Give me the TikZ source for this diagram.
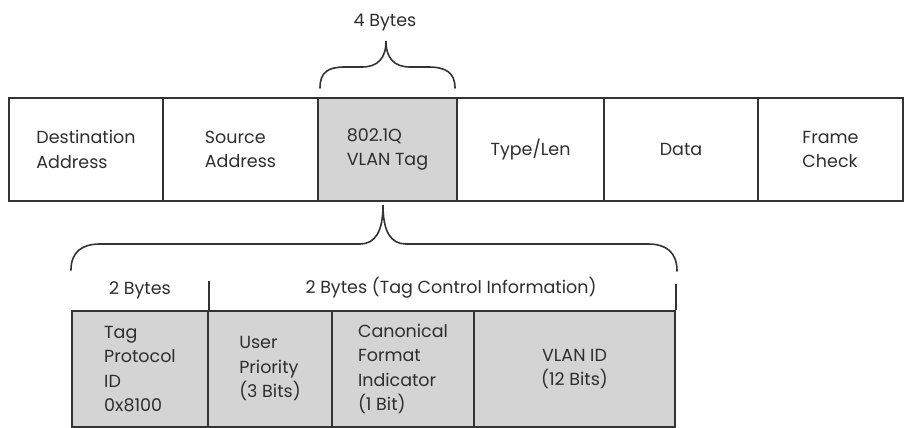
\documentclass[tikz,border=0pt]{standalone}
\usepackage{fontspec}
\setmainfont{Poppins}
\usetikzlibrary{calc}
\definecolor{edge}{HTML}{333333}
\definecolor{ink}{HTML}{2E2E2E}
\definecolor{shade}{HTML}{D4D4D4}
\begin{document}
\begin{tikzpicture}[x=1pt,y=-1pt,
  cell/.style={draw=edge,line width=1.6pt,inner sep=0pt,text=ink,
    font=\fontsize{17.5}{24.5}\selectfont},
  lbl/.style={inner sep=0pt,text=ink,font=\fontsize{17.5}{24.5}\selectfont},
  brace/.style={draw=edge,line width=1.6pt,line cap=round}]
\useasboundingbox (0,0) rectangle (905,428);
% top frame
\node[cell,minimum width=154pt,minimum height=103pt,align=left] (dst) at (86,149.5) {Destination\\Address};
\node[cell,minimum width=155pt,minimum height=103pt,align=left] (src) at (240.5,149.5) {Source\\Address};
\node[cell,fill=shade,minimum width=139pt,minimum height=103pt,align=left] (tag) at (387.5,149.5) {802.1Q\\VLAN Tag};
\node[cell,minimum width=147pt,minimum height=103pt,align=center] (typ) at (530.5,149.5) {Type/Len};
\node[cell,minimum width=154pt,minimum height=103pt,align=center] (dat) at (681,149.5) {Data};
\node[cell,minimum width=145pt,minimum height=103pt,align=left] (fcs) at (830.5,149.5) {Frame\\Check};
% bottom frame
\node[cell,fill=shade,minimum width=136pt,minimum height=116pt,align=left] (tpid) at (140,369) {Tag\\Protocol\\ID\\0x8100};
\node[cell,fill=shade,minimum width=124pt,minimum height=116pt,align=left] (pri) at (270,369) {User\\Priority\\(3 Bits)};
\node[cell,fill=shade,minimum width=142pt,minimum height=116pt,align=left] (cfi) at (403,369) {Canonical\\Format\\Indicator\\(1 Bit)};
\node[cell,fill=shade,minimum width=201pt,minimum height=116pt,align=center] (vid) at (574.5,369) {VLAN ID\\(12 Bits)};
% labels
\node[lbl] (four) at (385,22) {4 Bytes};
\node[lbl] (two) at (140,290) {2 Bytes};
\node[lbl] (tci) at (451,288) {2 Bytes (Tag Control Information)};
% upper brace
\coordinate (ua) at (320,88);
\coordinate (ut) at (386,41);
\coordinate (ub) at (455,88);
\draw[brace] (ua) .. controls (320,72) and (328,67) .. (345,67) -- (362,67)
  .. controls (378,67) and (386,58) .. (ut)
  .. controls (386,58) and (394,67) .. (410,67) -- (428,67)
  .. controls (445,67) and (455,72) .. (ub);
% lower brace
\coordinate (la) at (71,270);
\coordinate (lt) at (383,205);
\coordinate (lb) at (677,271);
\draw[brace] (la) .. controls (71,252) and (82,244) .. (100,244) -- (360,244)
  .. controls (375,244) and (383,232) .. (lt)
  .. controls (383,232) and (391,244) .. (406,244) -- (648,244)
  .. controls (666,244) and (677,252) .. (lb);
% ticks
\draw[brace,line cap=butt] (tpid.north east) -- ++(0,-29);
\draw[brace,line cap=butt] (vid.north east) -- ++(0,-26);
\end{tikzpicture}
\end{document}
